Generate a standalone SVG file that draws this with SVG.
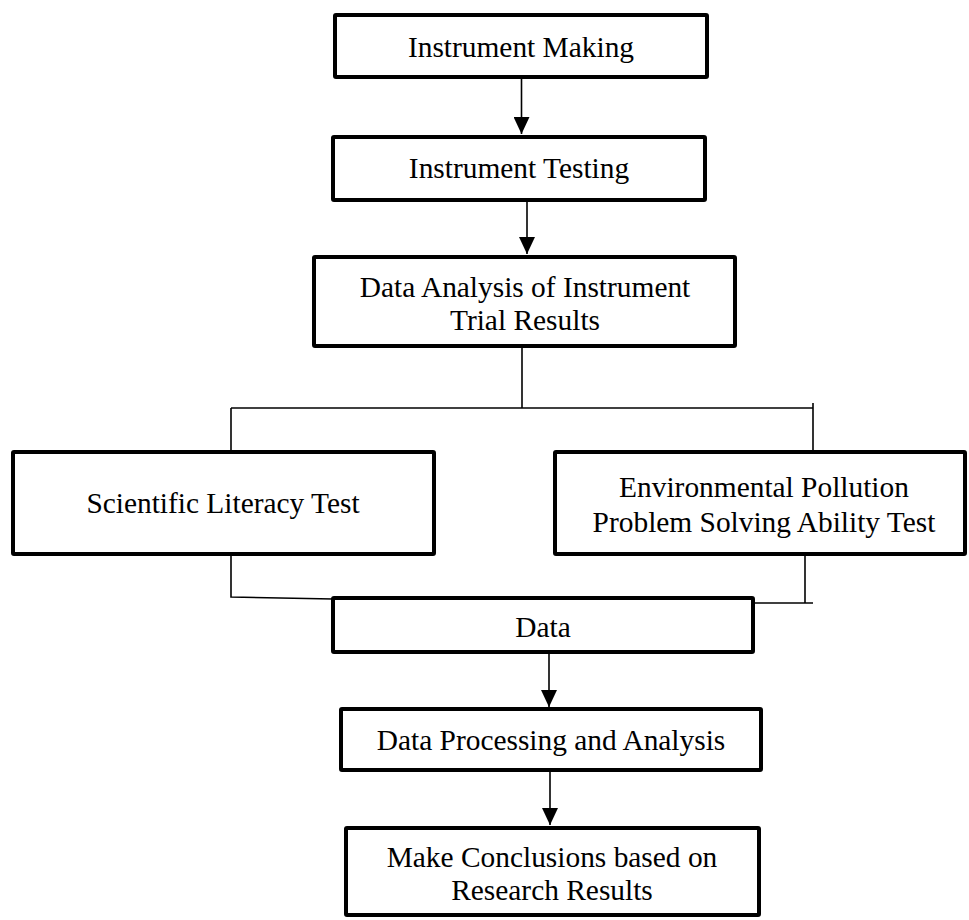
<svg xmlns="http://www.w3.org/2000/svg" width="969" height="920" viewBox="0 0 969 920">
<style>
.box{fill:#fff;stroke:#000;stroke-width:4;stroke-linejoin:round}
.t{font-family:'Liberation Serif','Times New Roman',serif;font-size:29.4px;fill:#000;text-anchor:middle}
.c{fill:none;stroke:#000;stroke-width:1.6}
</style>
<defs>
<marker id="ah" markerUnits="userSpaceOnUse" markerWidth="18" markerHeight="16" viewBox="0 0 18 16" refX="17" refY="8" orient="auto">
<path d="M0,0 L17,8 L0,16 Z" fill="#000"/>
</marker>
</defs>
<rect width="969" height="920" fill="#fff"/>
<g id="connectors">
<line class="c" x1="521.5" y1="79" x2="521.5" y2="134" marker-end="url(#ah)"/>
<line class="c" x1="527" y1="202" x2="527" y2="254" marker-end="url(#ah)"/>
<line class="c" x1="522" y1="348" x2="522" y2="408"/>
<line class="c" x1="231" y1="408" x2="813" y2="408"/>
<line class="c" x1="231" y1="408" x2="231" y2="452"/>
<line class="c" x1="813" y1="403" x2="813" y2="452"/>
<polyline class="c" points="231,550 231,597 333,599"/>
<line class="c" x1="805" y1="556" x2="805" y2="603"/>
<line class="c" x1="755" y1="603" x2="813" y2="603"/>
<line class="c" x1="549" y1="654" x2="549" y2="707" marker-end="url(#ah)"/>
<line class="c" x1="550" y1="772" x2="550" y2="825" marker-end="url(#ah)"/>
</g>
<g id="n1"><rect class="box" x="335" y="15" width="372" height="62" rx="1"/><text class="t" x="521" y="57">Instrument Making</text></g>
<g id="n2"><rect class="box" x="333" y="137" width="372" height="63" rx="1"/><text class="t" x="519" y="178">Instrument Testing</text></g>
<g id="n3"><rect class="box" x="314" y="257" width="421" height="89" rx="1"/><text class="t" x="525" y="297">Data Analysis of Instrument</text><text class="t" x="525" y="330">Trial Results</text></g>
<g id="n4"><rect class="box" x="13" y="452" width="421" height="102" rx="1"/><text class="t" x="223" y="513">Scientific Literacy Test</text></g>
<g id="n5"><rect class="box" x="555" y="452" width="410" height="102" rx="1"/><text class="t" x="764" y="497">Environmental Pollution</text><text class="t" x="764" y="532">Problem Solving Ability Test</text></g>
<g id="n6"><rect class="box" x="333" y="598" width="420" height="54" rx="1"/><text class="t" x="543" y="637">Data</text></g>
<g id="n7"><rect class="box" x="341" y="709" width="420" height="61" rx="1"/><text class="t" x="551" y="750">Data Processing and Analysis</text></g>
<g id="n8"><rect class="box" x="346" y="828" width="413" height="87" rx="1"/><text class="t" x="552" y="867">Make Conclusions based on</text><text class="t" x="552" y="900">Research Results</text></g>
</svg>
